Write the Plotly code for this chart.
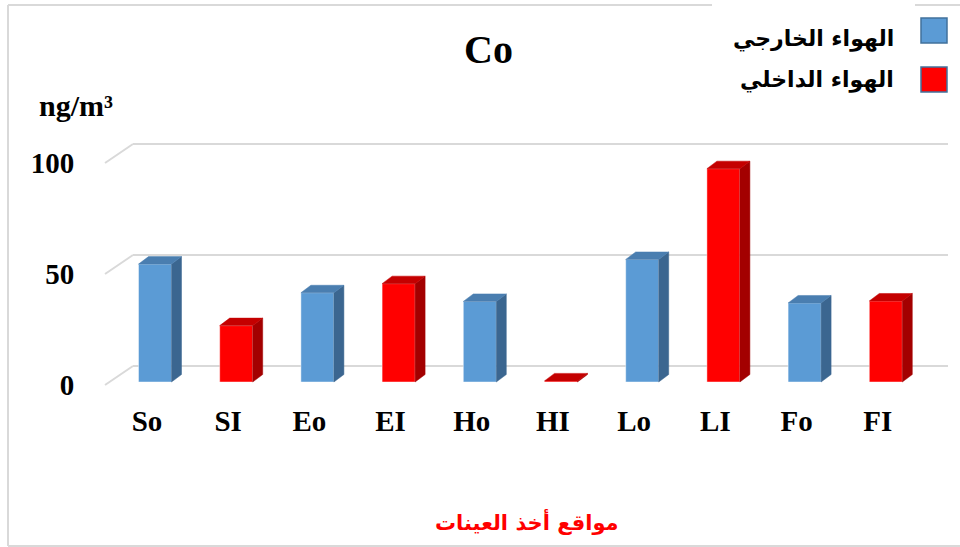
import numpy as np
import plotly.graph_objects as go

# ---- data -------------------------------------------------------------
categories = ["So", "SI", "Eo", "EI", "Ho", "HI", "Lo", "LI", "Fo", "FI"]
values = [53.1, 25.4, 40.2, 44.3, 36.3, 0.5, 55.2, 96.1, 35.6, 36.5]
is_outdoor = [True, False, True, False, True, False, True, False, True, False]
y_ticks = [0, 50, 100]
y_tick_labels = ["0", "50", "100"]

title_text = "Co"
unit_text = "ng/m³"
x_title = "مواقع أخذ العينات"
legend_outdoor = "الهواء الخارجي"
legend_indoor = "الهواء الداخلي"

# ---- styling ----------------------------------------------------------
W, H = 960, 547
BLUE_FRONT, BLUE_SIDE, BLUE_TOP = "#5b9bd5", "#3b6690", "#4a7eb0"
RED_FRONT, RED_SIDE, RED_TOP = "#ff0000", "#a30000", "#c40000"
GRID = "#d9d9d9"
SERIF = "Liberation Serif"
ARABIC = "DejaVu Sans"

# pixel geometry of the pseudo-3D frame
PX0, PXS = 150.2, 81.2      # x pixel of category 0 on the front plane, pixels per category
PY0, PYS = 385.0, 2.22      # y pixel of value 0 on the front plane, pixels per unit
PLOT_L, PLOT_R, PLOT_T, PLOT_B = 95, 955, 100, 400

def dxd(px):
    return px / PXS

def dyd(py):
    return -py / PYS

WALL_DX, WALL_DY = 28, -19          # depth of the back wall
BAR_DX, BAR_DY = 4.8, -3            # bar front face position in depth
SIDE_DX, SIDE_DY = 10, -7.5         # bar depth
BAR_W = 33 / PXS

x_range = [(PLOT_L - PX0) / PXS, (PLOT_R - PX0) / PXS]
y_range = [(PY0 - PLOT_B) / PYS, (PY0 - PLOT_T) / PYS]

fig = go.Figure()

# back-wall gridlines with the left-hand floor diagonal
shapes = []
x_left_front = (105 - PX0) / PXS
x_right_back = (948 - PX0) / PXS
for v in y_ticks:
    xs = [x_left_front, x_left_front + dxd(WALL_DX), x_right_back]
    ys = [v, v + dyd(WALL_DY), v + dyd(WALL_DY)]
    shapes.append(dict(type="line", xref="x", yref="y", layer="below",
                       x0=xs[0], y0=ys[0], x1=xs[1], y1=ys[1],
                       line=dict(color=GRID, width=2)))
    shapes.append(dict(type="line", xref="x", yref="y", layer="below",
                       x0=xs[1], y0=ys[1], x1=xs[2], y1=ys[2],
                       line=dict(color=GRID, width=2)))

# front faces as real bar traces
xpos = np.arange(len(categories))
for outdoor, front in [(True, BLUE_FRONT), (False, RED_FRONT)]:
    idx = [i for i, o in enumerate(is_outdoor) if o == outdoor]
    fig.add_trace(go.Bar(
        x=[xpos[i] + dxd(BAR_DX) for i in idx],
        y=[values[i] for i in idx],
        base=[dyd(BAR_DY)] * len(idx),
        width=BAR_W,
        marker=dict(color=front, line=dict(color="rgba(255,255,255,0.45)", width=1)),
        showlegend=False, hoverinfo="skip",
    ))

# side and top faces
for i, v in enumerate(values):
    side = BLUE_SIDE if is_outdoor[i] else RED_SIDE
    top = BLUE_TOP if is_outdoor[i] else RED_TOP
    x0 = xpos[i] + dxd(BAR_DX) - BAR_W / 2
    x1 = xpos[i] + dxd(BAR_DX) + BAR_W / 2
    b = dyd(BAR_DY)
    ddx, ddy = dxd(SIDE_DX), dyd(SIDE_DY)
    fig.add_trace(go.Scatter(
        x=[x1, x1 + ddx, x1 + ddx, x1, x1],
        y=[b, b + ddy, b + v + ddy, b + v, b],
        fill="toself", fillcolor=side, mode="lines",
        line=dict(color=side, width=0.5), showlegend=False, hoverinfo="skip"))
    fig.add_trace(go.Scatter(
        x=[x0, x1, x1 + ddx, x0 + ddx, x0],
        y=[b + v, b + v, b + v + ddy, b + v + ddy, b + v],
        fill="toself", fillcolor=top, mode="lines",
        line=dict(color=top, width=0.5), showlegend=False, hoverinfo="skip"))

# outer frame and legend swatches (pixel-positioned, paper coordinates)
def px(x):
    return x / W

def py(y):
    return 1 - y / H

frame = dict(color="#d9d9d9", width=2)
shapes += [
    dict(type="line", xref="paper", yref="paper", x0=px(8), y0=py(5), x1=px(8), y1=py(546), line=frame),
    dict(type="line", xref="paper", yref="paper", x0=px(8), y0=py(546), x1=px(960), y1=py(546), line=frame),
    dict(type="line", xref="paper", yref="paper", x0=px(8), y0=py(5), x1=px(712), y1=py(5), line=frame),
    dict(type="line", xref="paper", yref="paper", x0=px(915), y0=py(5), x1=px(960), y1=py(5), line=frame),
    dict(type="rect", xref="paper", yref="paper", x0=px(921), y0=py(18), x1=px(947), y1=py(43),
         fillcolor=BLUE_FRONT, line=dict(color="#41719c", width=1.5)),
    dict(type="rect", xref="paper", yref="paper", x0=px(921), y0=py(67), x1=px(947), y1=py(92),
         fillcolor=RED_FRONT, line=dict(color="#41719c", width=1.5)),
]

def label(text, x, y, size, family, color="black", xanchor="center"):
    return dict(text=text, x=px(x), y=py(y), xref="paper", yref="paper", showarrow=False,
                xanchor=xanchor, yanchor="middle",
                font=dict(family=family, size=size, color=color, weight=700))

annotations = [
    label(title_text, 488, 49, 40, SERIF),
    label(unit_text, 76, 106, 30, SERIF),
    label(x_title, 527, 521, 21, ARABIC, color="#ff0000"),
    label(legend_outdoor, 896, 39, 22, ARABIC, xanchor="right"),
    label(legend_indoor, 896, 80, 22, ARABIC, xanchor="right"),
]

fig.update_layout(
    width=W, height=H,
    margin=dict(l=0, r=0, t=0, b=0),
    paper_bgcolor="white", plot_bgcolor="rgba(0,0,0,0)",
    showlegend=False, barmode="overlay",
    shapes=shapes, annotations=annotations,
    xaxis=dict(domain=[PLOT_L / W, PLOT_R / W], range=x_range, showgrid=False, zeroline=False,
               showline=False, tickvals=list(xpos - 0.04), ticktext=categories,
               ticks="", ticklabelstandoff=1,
               tickfont=dict(family=SERIF, size=29, color="black", weight=700),
               automargin=False, fixedrange=True),
    yaxis=dict(domain=[1 - PLOT_B / H, 1 - PLOT_T / H], range=y_range, showgrid=False,
               zeroline=False, showline=False, tickvals=y_ticks, ticktext=y_tick_labels,
               ticks="outside", ticklen=14, tickcolor="rgba(0,0,0,0)",
               tickfont=dict(family=SERIF, size=29, color="black", weight=700),
               automargin=False, fixedrange=True),
)

fig.write_html("out.html")
